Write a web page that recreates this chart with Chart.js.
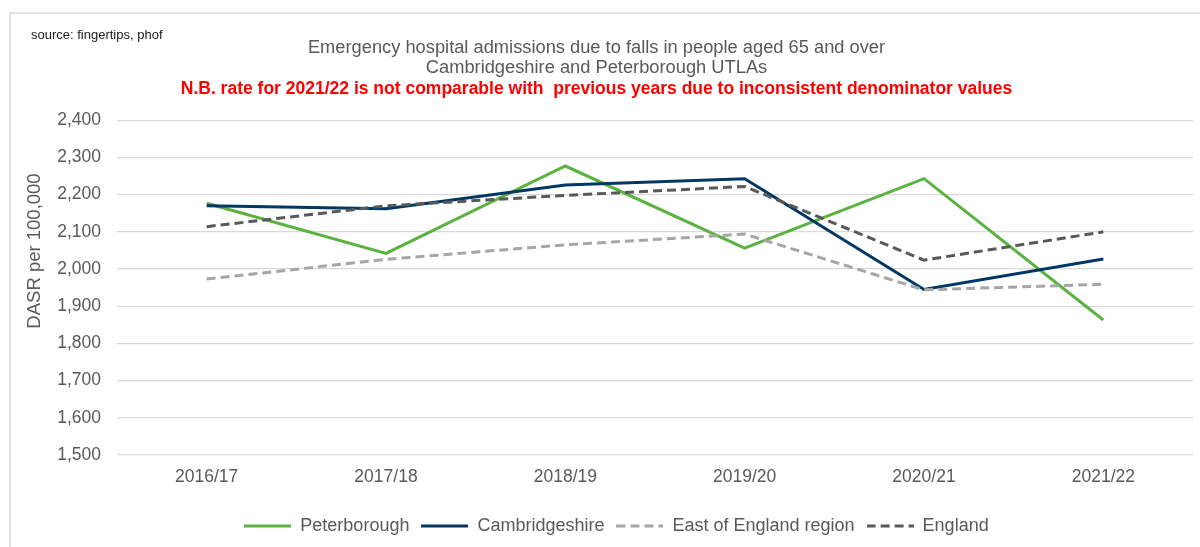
<!DOCTYPE html>
<html>
<head>
<meta charset="utf-8">
<script src="https://cdn.jsdelivr.net/npm/chart.js@4"></script>
<style>
  body { margin: 0; background: #fff; }
  #wrap { width: 1200px; height: 547px; }
</style>
</head>
<body>
<div id="wrap"><canvas id="myChart" width="1200" height="547"></canvas></div>
<script>
const years = ['2016/17', '2017/18', '2018/19', '2019/20', '2020/21', '2021/22'];

const peterborough   = [2177, 2042, 2277, 2056, 2243, 1863];
const cambridgeshire = [2170, 2162, 2226, 2243, 1945, 2027];
const eastOfEngland  = [1973, 2026, 2065, 2094, 1944, 1959];
const england        = [2114, 2170, 2198, 2222, 2024, 2100];

const yMin = 1500, yMax = 2400, yStep = 100;

const font = 'Liberation Sans, Arial, sans-serif';
const grey = '#595959';

// little line swatch for the legend (pointStyle 'line' ignores the dash)
function swatch(color, dash) {
  const cv = document.createElement('canvas');
  cv.width = 47; cv.height = 4;
  const c = cv.getContext('2d');
  c.strokeStyle = color;
  c.lineWidth = 3;
  c.setLineDash(dash);
  c.beginPath();
  c.moveTo(0, 2);
  c.lineTo(47, 2);
  c.stroke();
  return cv;
}

// frame, source note and the y title (sits higher than Chart.js would centre it)
const extras = {
  id: 'extras',
  afterLayout(chart) {
    chart.legend.left += 20;
    chart.legend.right += 20;
  },
  beforeDraw(chart) {
    const c = chart.ctx;
    c.save();
    c.fillStyle = '#fff';
    c.fillRect(0, 0, chart.width, chart.height);
    c.strokeStyle = '#d9d9d9';
    c.lineWidth = 1.5;
    c.beginPath();
    c.moveTo(10, 547);
    c.lineTo(10, 13);
    c.lineTo(1200, 13);
    c.stroke();
    c.restore();
  },
  afterDraw(chart) {
    const c = chart.ctx;
    c.save();
    c.fillStyle = '#1a1a1a';
    c.font = '13px ' + font;
    c.textBaseline = 'middle';
    c.fillText('source: fingertips, phof', 31, 35);
    c.translate(34.5, 251);
    c.rotate(-Math.PI / 2);
    c.fillStyle = grey;
    c.font = '18.5px ' + font;
    c.textAlign = 'center';
    c.fillText('DASR per 100,000', 0, 0);
    c.restore();
  }
};

const line = (label, data, color, dash) => ({
  label: label,
  data: data,
  borderColor: color,
  backgroundColor: color,
  borderWidth: 3,
  borderDash: dash,
  pointRadius: 0,
  pointStyle: swatch(color, dash),
  tension: 0,
  fill: false
});

const config = {
  type: 'line',
  data: {
    labels: years,
    // listed back to front so England is drawn on top; legend is reversed
    datasets: [
      line('England', england, '#595959', [9, 5]),
      line('East of England region', eastOfEngland, '#a6a6a6', [9, 5]),
      line('Cambridgeshire', cambridgeshire, '#003865', []),
      line('Peterborough', peterborough, '#5ab340', [])
    ]
  },
  options: {
    responsive: false,
    animation: false,
    layout: { padding: { top: 0, right: 7, bottom: 2, left: 0 } },
    plugins: {
      title: {
        display: true,
        text: ['Emergency hospital admissions due to falls in people aged 65 and over',
               'Cambridgeshire and Peterborough UTLAs'],
        color: grey,
        font: { family: font, size: 18.3, weight: 'normal', lineHeight: 1.08 },
        padding: { top: 38, bottom: 0 }
      },
      subtitle: {
        display: true,
        text: 'N.B. rate for 2021/22 is not comparable with  previous years due to inconsistent denominator values',
        color: '#ff0000',
        font: { family: font, size: 17.5, weight: 'bold', lineHeight: 1.1 },
        padding: { top: 2, bottom: 21.5 }
      },
      legend: {
        position: 'bottom',
        reverse: true,
        labels: {
          color: grey,
          font: { family: font, size: 18 },
          usePointStyle: true,
          pointStyleWidth: 47,
          boxHeight: 3,
          padding: 12
        }
      },
      tooltip: { enabled: false }
    },
    scales: {
      x: {
        offset: true,
        grid: { display: false, drawTicks: false },
        border: { display: false },
        ticks: { color: grey, font: { family: font, size: 17.5 }, padding: 12, maxRotation: 0 },
        afterFit(s) { s.height += 5; }
      },
      y: {
        min: yMin,
        max: yMax,
        grid: { color: '#d9d9d9', lineWidth: 1.3, drawTicks: false },
        border: { display: false },
        ticks: {
          stepSize: yStep,
          color: grey,
          font: { family: font, size: 17.5 },
          padding: 16,
          callback: v => v.toLocaleString('en-GB')
        },
        afterFit(s) { s.width = 117; }
      }
    }
  },
  plugins: [extras]
};

const myChart = new Chart(document.getElementById('myChart'), config);
</script>
</body>
</html>
